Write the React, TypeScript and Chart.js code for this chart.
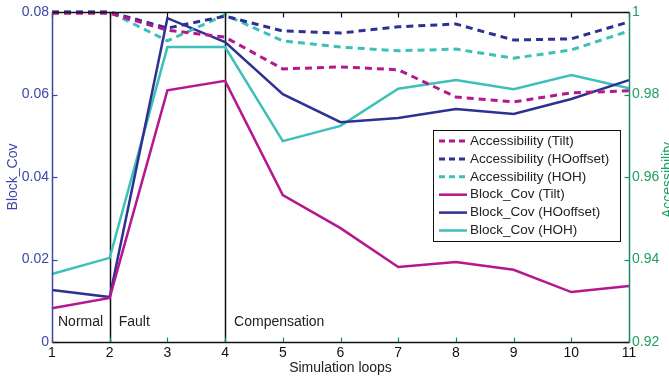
import React, { useEffect, useRef } from 'react';
import { Chart, registerables } from 'chart.js';
Chart.register(...registerables);

const loops = [1, 2, 3, 4, 5, 6, 7, 8, 9, 10, 11];
const accTilt = [0.9997, 0.9997, 0.9956, 0.9939, 0.9862, 0.9867, 0.986, 0.9794, 0.9782, 0.9804, 0.9809];
const accHOoffset = [1.0, 1.0, 0.9961, 0.999, 0.9954, 0.9949, 0.9964, 0.9971, 0.9932, 0.9935, 0.9976];
const accHOH = [1.0, 1.0, 0.993, 0.9993, 0.993, 0.9915, 0.9906, 0.991, 0.9888, 0.9908, 0.9954];
const covTilt = [0.0082, 0.0107, 0.061, 0.0633, 0.0356, 0.0276, 0.0182, 0.0194, 0.0175, 0.0121, 0.0136];
const covHOoffset = [0.0126, 0.0109, 0.0785, 0.0727, 0.0601, 0.0533, 0.0543, 0.0565, 0.0553, 0.0589, 0.0635];
const covHOH = [0.0165, 0.0204, 0.0715, 0.0715, 0.0487, 0.0524, 0.0614, 0.0635, 0.0613, 0.0647, 0.0615];
const leftTicks = [0, 0.02, 0.04, 0.06, 0.08];
const rightTicks = [0.92, 0.94, 0.96, 0.98, 1];
const phaseLines = [2, 4];
const phaseLabels = ['Normal', 'Fault', 'Compensation'];
const phaseStarts = [1, 2, 4];
const seriesNames = [
  'Accessibility (Tilt)',
  'Accessibility (HOoffset)',
  'Accessibility (HOH)',
  'Block_Cov (Tilt)',
  'Block_Cov (HOoffset)',
  'Block_Cov (HOH)',
];

const MAGENTA = '#b5178f';
const NAVY = '#2e3192';
const TEAL = '#3cc0b8';
const LEFT_COL = '#3c47a8';
const RIGHT_COL = '#1fa060';
const RIGHT_AXIS = '#1b8a6b';
const FONT = "'Liberation Sans', Arial, sans-serif";

const fmt = (v: number) => String(Number(Number(v).toFixed(2)));

export default function App() {
  const ref = useRef<HTMLCanvasElement>(null);
  useEffect(() => {
    if (!ref.current) return;
    const pts = (arr: number[]) => arr.map((v, i) => ({ x: loops[i], y: v }));
    const mk = (label: string, arr: number[], color: string, dashed: boolean, axis: string) => ({
      label,
      data: pts(arr),
      borderColor: color,
      backgroundColor: color,
      borderWidth: dashed ? 3 : 2.5,
      borderDash: dashed ? [7, 5] : [],
      pointRadius: 0,
      tension: 0,
      fill: false,
      yAxisID: axis,
      clip: false as any,
    });
    const datasets = [
      mk(seriesNames[0], accTilt, MAGENTA, true, 'y1'),
      mk(seriesNames[1], accHOoffset, NAVY, true, 'y1'),
      mk(seriesNames[2], accHOH, TEAL, true, 'y1'),
      mk(seriesNames[3], covTilt, MAGENTA, false, 'y'),
      mk(seriesNames[4], covHOoffset, NAVY, false, 'y'),
      mk(seriesNames[5], covHOH, TEAL, false, 'y'),
    ];

    const deco = {
      id: 'deco',
      beforeDatasetsDraw(chart: any) {
        const { ctx, chartArea: a, scales } = chart;
        ctx.save();
        ctx.strokeStyle = '#111';
        ctx.lineWidth = 1.5;
        phaseLines.forEach((p) => {
          const x = Math.round(scales.x.getPixelForValue(p)) + 0.5;
          ctx.beginPath();
          ctx.moveTo(x, a.top);
          ctx.lineTo(x, a.bottom);
          ctx.stroke();
        });
        ctx.fillStyle = '#222';
        ctx.font = `14px ${FONT}`;
        ctx.textBaseline = 'middle';
        ctx.textAlign = 'left';
        phaseLabels.forEach((t, i) => {
          const x = scales.x.getPixelForValue(phaseStarts[i]) + (i === 0 ? 6 : 9);
          ctx.fillText(t, x, a.bottom - 20);
        });
        ctx.restore();
      },
      afterDraw(chart: any) {
        const { ctx, chartArea: a, scales } = chart;
        ctx.save();
        const L = Math.round(a.left) + 0.5;
        const R = Math.round(a.right) + 0.5;
        const T = Math.round(a.top) + 0.5;
        const B = Math.round(a.bottom) + 0.5;
        ctx.lineWidth = 1.2;
        loops.forEach((v) => {
          const x = Math.round(scales.x.getPixelForValue(v)) + 0.5;
          ctx.strokeStyle = '#111';
          ctx.beginPath(); ctx.moveTo(x, T); ctx.lineTo(x, T + 5); ctx.stroke();
          ctx.strokeStyle = RIGHT_AXIS;
          ctx.beginPath(); ctx.moveTo(x, B); ctx.lineTo(x, B - 5); ctx.stroke();
        });
        leftTicks.forEach((v) => {
          const y = Math.round(scales.y.getPixelForValue(v)) + 0.5;
          ctx.strokeStyle = LEFT_COL;
          ctx.beginPath(); ctx.moveTo(L, y); ctx.lineTo(L + 5, y); ctx.stroke();
        });
        rightTicks.forEach((v) => {
          const y = Math.round(scales.y1.getPixelForValue(v)) + 0.5;
          ctx.strokeStyle = RIGHT_AXIS;
          ctx.beginPath(); ctx.moveTo(R, y); ctx.lineTo(R - 5, y); ctx.stroke();
        });
        ctx.lineWidth = 1.5;
        ctx.strokeStyle = '#111';
        ctx.beginPath(); ctx.moveTo(L, T); ctx.lineTo(R, T); ctx.stroke();
        ctx.beginPath(); ctx.moveTo(L, B); ctx.lineTo(R, B); ctx.stroke();
        ctx.strokeStyle = LEFT_COL;
        ctx.beginPath(); ctx.moveTo(L, T); ctx.lineTo(L, B); ctx.stroke();
        ctx.strokeStyle = RIGHT_AXIS;
        ctx.beginPath(); ctx.moveTo(R, T); ctx.lineTo(R, B); ctx.stroke();

        ctx.font = `14px ${FONT}`;
        ctx.textAlign = 'center';
        ctx.textBaseline = 'middle';
        ctx.fillStyle = '#222';
        ctx.fillText('Simulation loops', (a.left + a.right) / 2, 368);
        ctx.fillStyle = LEFT_COL;
        ctx.save();
        ctx.translate(13, 177);
        ctx.rotate(-Math.PI / 2);
        ctx.fillText('Block_Cov', 0, 0);
        ctx.restore();
        ctx.fillStyle = RIGHT_COL;
        ctx.save();
        ctx.translate(668, 180);
        ctx.rotate(-Math.PI / 2);
        ctx.fillText('Accessibility', 0, 0);
        ctx.restore();

        // legend
        const bx = 433.5, by = 130.5, bw = 187, bh = 111;
        ctx.fillStyle = '#fff';
        ctx.fillRect(bx, by, bw, bh);
        ctx.strokeStyle = '#111';
        ctx.lineWidth = 1;
        ctx.strokeRect(bx, by, bw, bh);
        ctx.font = `13.5px ${FONT}`;
        ctx.textAlign = 'left';
        ctx.textBaseline = 'middle';
        chart.data.datasets.forEach((ds: any, i: number) => {
          const y = by + 10.5 + i * 17.9;
          ctx.strokeStyle = ds.borderColor;
          ctx.lineWidth = ds.borderWidth;
          ctx.setLineDash(ds.borderDash.length ? [6, 4] : []);
          ctx.beginPath(); ctx.moveTo(439, y); ctx.lineTo(467, y); ctx.stroke();
          ctx.setLineDash([]);
          ctx.fillStyle = '#222';
          ctx.fillText(ds.label, 470, y);
        });
        ctx.restore();
      },
    };

    const chart = new Chart(ref.current, {
      type: 'line',
      data: { datasets: datasets as any },
      options: {
        animation: false,
        responsive: false,
        maintainAspectRatio: false,
        layout: { padding: { top: 12, left: 0, right: 0, bottom: 0 } },
        plugins: { legend: { display: false }, tooltip: { enabled: false } },
        scales: {
          x: {
            type: 'linear',
            min: 1,
            max: 11,
            afterBuildTicks: (s: any) => { s.ticks = loops.map((v) => ({ value: v })); },
            ticks: { color: '#111', font: { size: 14, family: FONT }, padding: 3, maxRotation: 0, autoSkip: false },
            grid: { display: false, drawTicks: false },
            border: { display: false },
            afterFit: (s: any) => { s.height = 35; },
          },
          y: {
            position: 'left',
            min: 0,
            max: 0.08,
            afterBuildTicks: (s: any) => { s.ticks = leftTicks.map((v) => ({ value: v })); },
            ticks: { color: LEFT_COL, font: { size: 14, family: FONT }, padding: 3, callback: (v: any) => fmt(v) },
            grid: { display: false, drawTicks: false },
            border: { display: false },
            afterFit: (s: any) => { s.width = 52; },
          },
          y1: {
            position: 'right',
            min: 0.92,
            max: 1,
            afterBuildTicks: (s: any) => { s.ticks = rightTicks.map((v) => ({ value: v })); },
            ticks: { color: RIGHT_COL, font: { size: 14, family: FONT }, padding: 3, callback: (v: any) => fmt(v) },
            grid: { display: false, drawTicks: false },
            border: { display: false },
            afterFit: (s: any) => { s.width = 40; },
          },
        },
      } as any,
      plugins: [deco],
    });
    return () => chart.destroy();
  }, []);
  return (
    <div style={{ position: 'absolute', left: 0, top: 0, width: 669, height: 377, background: '#fff' }}>
      <canvas ref={ref} width={669} height={377} style={{ display: 'block' }} />
    </div>
  );
}
